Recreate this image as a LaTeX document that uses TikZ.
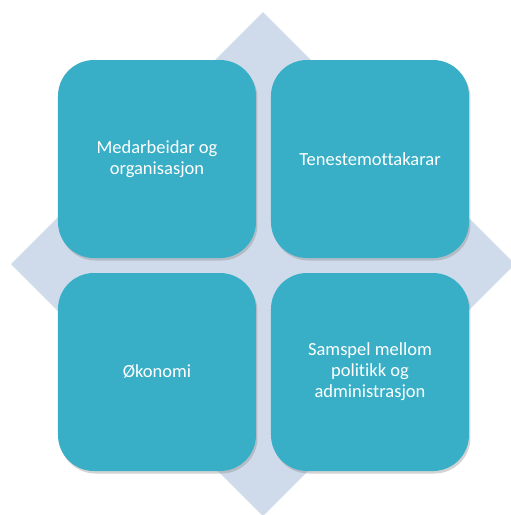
\documentclass[tikz,border=0pt]{standalone}
\usepackage{fontspec}
\setmainfont{Carlito}[Ligatures=NoCommon]
\usetikzlibrary{shadows,matrix}
\definecolor{tealbox}{HTML}{38AFC6}
\definecolor{diamondbg}{HTML}{CFDBEB}
\tikzset{
  areabox/.style={fill=tealbox, rounded corners=36pt, minimum width=198pt,
    minimum height=198pt, text=white, align=center, inner sep=0pt,
    font=\fontsize{18.5}{21}\selectfont,
    drop shadow={shadow xshift=1.5pt, shadow yshift=-2.5pt, opacity=.35}},
}
\begin{document}
\begin{tikzpicture}[x=1pt,y=-1pt]
  \useasboundingbox (0,0) rectangle (511,515);
  \clip (0,0) rectangle (511,515);
  % diamond behind the boxes
  \fill[diamondbg] (263,12) -- (515,264) -- (263,516) -- (11,264) -- cycle;
  \matrix (grid) [row sep=15pt, column sep=15pt, nodes=areabox] at (263.5,265.5) {
    \node (staff) {Medarbeidar og\\organisasjon}; & \node (users) {Tenestemottakarar}; \\
    \node (economy) {Økonomi}; & \node (politics) {Samspel mellom\\politikk og\\administrasjon}; \\
  };
\end{tikzpicture}
\end{document}
